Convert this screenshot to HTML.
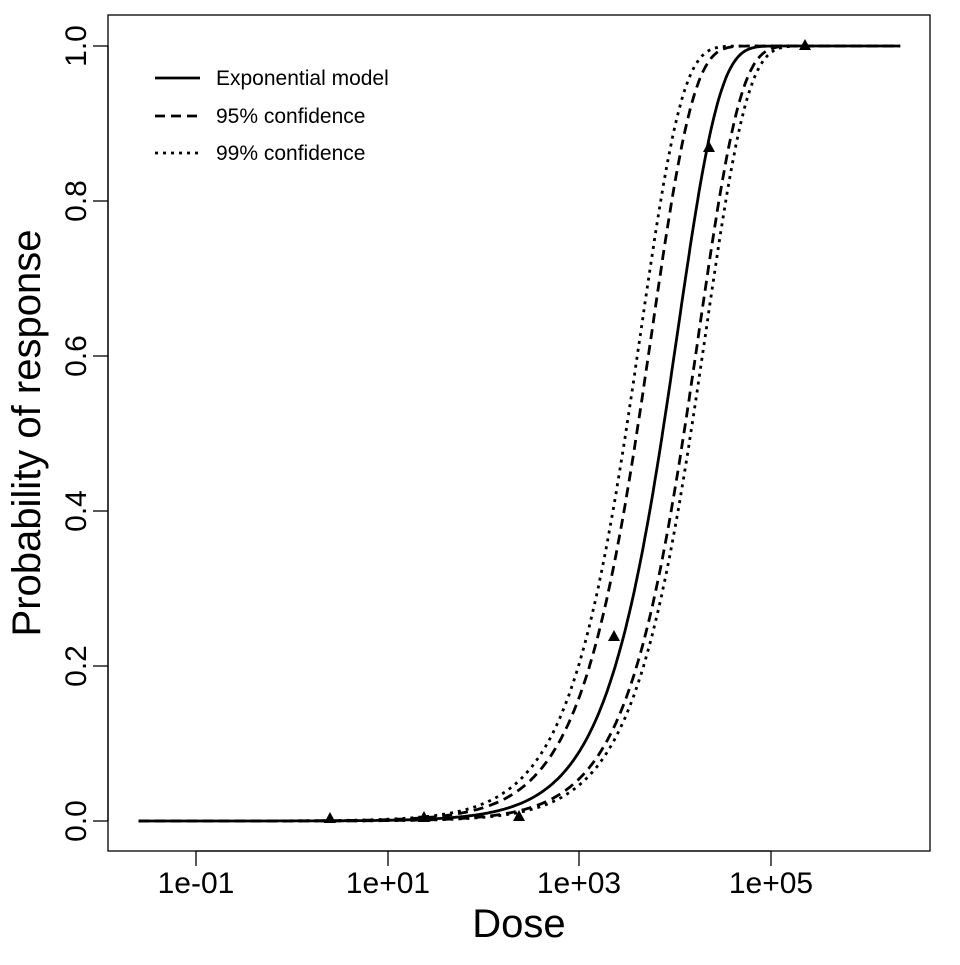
<!DOCTYPE html>
<html><head><style>
html,body{margin:0;padding:0;background:#fff;}
svg text{font-family:"Liberation Sans",Arial,sans-serif;fill:#000;}
</style></head><body>
<svg id="s" width="960" height="960" xmlns="http://www.w3.org/2000/svg">
<rect x="108" y="15" width="822" height="836" fill="none" stroke="#000" stroke-width="1.3"/>
<g stroke="#000" stroke-width="1.3">
<line x1="196" y1="851" x2="771" y2="851"/>
<line x1="196" y1="851" x2="196" y2="866"/><line x1="388" y1="851" x2="388" y2="866"/><line x1="579" y1="851" x2="579" y2="866"/><line x1="771" y1="851" x2="771" y2="866"/>
<line x1="108" y1="46" x2="108" y2="821"/>
<line x1="93" y1="821" x2="108" y2="821"/><line x1="93" y1="666" x2="108" y2="666"/><line x1="93" y1="511" x2="108" y2="511"/><line x1="93" y1="356" x2="108" y2="356"/><line x1="93" y1="201" x2="108" y2="201"/><line x1="93" y1="46" x2="108" y2="46"/>
</g>
<g font-size="30" text-anchor="middle">
<text x="196" y="893">1e-01</text><text x="388" y="893">1e+01</text><text x="579" y="893">1e+03</text><text x="771" y="893">1e+05</text>
<text transform="translate(86,821) rotate(-90)">0.0</text>
<text transform="translate(86,666) rotate(-90)">0.2</text>
<text transform="translate(86,511) rotate(-90)">0.4</text>
<text transform="translate(86,356) rotate(-90)">0.6</text>
<text transform="translate(86,201) rotate(-90)">0.8</text>
<text transform="translate(86,46) rotate(-90)">1.0</text>
</g>
<text x="519" y="937" font-size="40" text-anchor="middle">Dose</text>
<text transform="translate(40,433) rotate(-90)" font-size="40" text-anchor="middle">Probability of response</text>
<g stroke="#000" stroke-width="2.8" fill="none">
<line x1="155" y1="78" x2="200" y2="78"/>
<line x1="155" y1="116" x2="200" y2="116" stroke-dasharray="10,6"/>
<line x1="155" y1="153" x2="200" y2="153" stroke-dasharray="3,5"/>
</g>
<g font-size="21"><text x="216" y="85">Exponential model</text><text x="216" y="123">95% confidence</text><text x="216" y="160">99% confidence</text></g>
<g id="c" fill="none" stroke="#000" stroke-width="2.8"></g>
<g id="p"></g>
</svg>
<script>
var X=function(l){return 196+(l+1)*95.8;},Y=function(p){return 821-775*p;};
function path(k,dash){var d="";for(var i=0;i<=700;i++){var l=-1.6+i*(7.95/700);var p=1-Math.exp(-k*Math.pow(10,l));d+=(i?"L":"M")+X(l).toFixed(1)+","+Y(p).toFixed(1);}
var e=document.createElementNS("http://www.w3.org/2000/svg","path");e.setAttribute("d",d);if(dash)e.setAttribute("stroke-dasharray",dash);document.getElementById("c").appendChild(e);}
path(9.37e-5);path(1.74e-4,"10,6");path(5.6e-5,"10,6");path(2.27e-4,"3,5");path(4.75e-5,"3,5");
var pts=[[330,819],[424,818],[519,817],[614,637],[709,148],[805,46]];
pts.forEach(function(q){var e=document.createElementNS("http://www.w3.org/2000/svg","polygon");var x=q[0],y=q[1];e.setAttribute("points",(x)+","+(y-7)+" "+(x-6)+","+(y+4)+" "+(x+6)+","+(y+4));document.getElementById("p").appendChild(e);});
</script>
</body></html>
